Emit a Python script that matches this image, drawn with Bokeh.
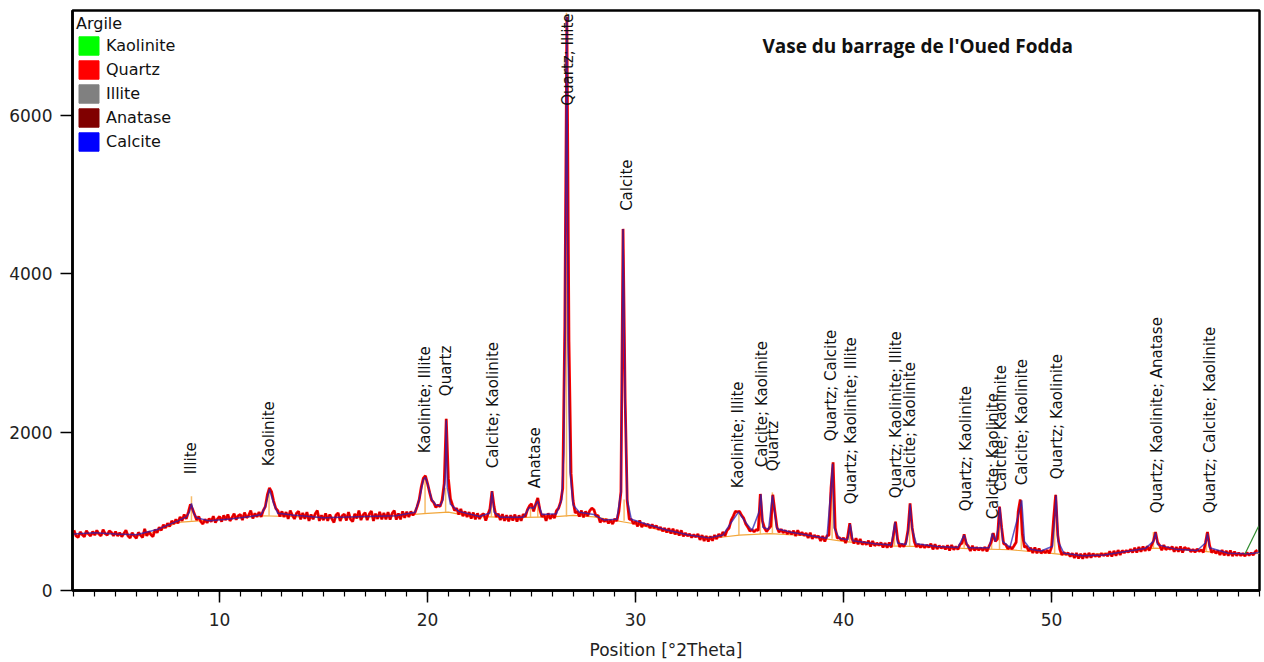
import math
import numpy as np
from bokeh.plotting import figure
from bokeh.models import Range1d, FixedTicker, Legend, LegendItem, Label
from bokeh.core.properties import value
from bokeh.embed import file_html
from bokeh.resources import INLINE

# ---------------- data ----------------
scan_start = 3.0
scan_step = 0.1
obs_counts = [
    760, 690, 670, 740, 705, 680, 755, 715, 690, 745,   # 3
    700, 760, 715, 690, 770, 720, 700, 755, 735, 690,   # 4
    745, 690, 730, 680, 720, 760, 690, 665, 730, 690,   # 5
    660, 735, 700, 670, 780, 690, 745, 705, 680, 770,   # 6
    730, 800, 760, 830, 790, 850, 810, 880, 840, 900,   # 7
    850, 930, 880, 960, 905, 990, 1090, 1030, 960, 890, # 8
    935, 870, 840, 900, 855, 910, 870, 940, 860, 905,   # 9
    935, 870, 950, 890, 960, 880, 920, 970, 895, 945,   # 10
    960, 890, 985, 920, 950, 1010, 910, 975, 930, 990,  # 11
    930, 1010, 1060, 1210, 1295, 1250, 1130, 1040, 1010, 935,  # 12
    1000, 930, 990, 905, 1010, 950, 905, 975, 1000, 900,  # 13
    980, 905, 990, 880, 960, 900, 970, 1010, 880, 950,  # 14
    890, 975, 880, 960, 905, 860, 955, 980, 880, 945,   # 15
    965, 885, 990, 900, 870, 970, 910, 1010, 890, 955,  # 16
    985, 890, 965, 1005, 880, 970, 905, 995, 900, 980,  # 17
    900, 990, 895, 975, 1010, 895, 975, 900, 1000, 920,  # 18
    995, 930, 1000, 950, 990, 1060, 1150, 1310, 1420, 1450,  # 19
    1350, 1240, 1140, 1110, 1050, 1080, 1060, 1140, 1350, 2170,  # 20
    1420, 1160, 1080, 1010, 1040, 960, 1030, 940, 1000, 930,  # 21
    990, 910, 985, 900, 975, 905, 955, 970, 885, 960,   # 22
    1030, 1255, 1060, 930, 970, 890, 965, 880, 950, 875,  # 23
    950, 885, 960, 870, 950, 880, 965, 930, 1020, 1070,  # 24
    1095, 1000, 1090, 1170, 1020, 930, 960, 880, 975, 905,  # 25
    960, 915, 1010, 1040, 1120, 1290, 3340, 7250, 3150, 1480,  # 26
    1130, 980, 1000, 935, 1010, 925, 1000, 940, 1010, 1040,  # 27
    1020, 940, 950, 860, 905, 870, 900, 850, 890, 840,  # 28
    905, 880, 1000, 1250, 4570, 2430, 1130, 900, 900, 840,  # 29
    875, 810, 885, 800, 850, 815, 840, 790, 835, 790,   # 30
    820, 770, 800, 750, 790, 735, 785, 720, 780, 710,   # 31
    765, 695, 760, 685, 725, 690, 715, 670, 705, 675,   # 32
    715, 640, 700, 625, 690, 620, 685, 630, 700, 650,   # 33
    715, 675, 740, 690, 760, 790, 890, 940, 1000, 995,  # 34
    1000, 950, 915, 840, 800, 750, 770, 740, 770, 760,  # 35
    1220, 880, 790, 745, 780, 810, 1210, 1000, 800, 735,  # 36
    775, 730, 760, 715, 750, 710, 755, 690, 760, 700,   # 37
    735, 695, 725, 665, 730, 655, 700, 670, 690, 625,   # 38
    690, 620, 690, 700, 1300, 1620, 790, 660, 670, 635,  # 39
    665, 600, 680, 850, 660, 595, 660, 585, 650, 580,   # 40
    615, 580, 630, 555, 625, 565, 600, 570, 605, 545,   # 41
    600, 540, 605, 545, 700, 870, 650, 550, 585, 555,   # 42
    610, 760, 1100, 800, 620, 550, 585, 545, 580, 540,  # 43
    575, 545, 590, 520, 585, 525, 565, 535, 560, 520,   # 44
    570, 505, 575, 515, 555, 520, 580, 600, 710, 590,   # 45
    560, 500, 565, 505, 545, 510, 540, 505, 550, 495,   # 46
    560, 610, 725, 620, 650, 1060, 800, 590, 580, 525,  # 47
    555, 525, 565, 610, 1000, 1150, 710, 545, 560, 500,  # 48
    540, 475, 545, 470, 530, 470, 505, 475, 510, 470,   # 49
    545, 900, 1210, 700, 520, 450, 480, 455, 475, 430,  # 50
    470, 410, 475, 405, 465, 400, 470, 410, 475, 415,   # 51
    465, 430, 455, 425, 470, 440, 465, 435, 495, 430,   # 52
    500, 440, 510, 450, 505, 475, 505, 485, 520, 480,   # 53
    540, 480, 550, 490, 555, 500, 560, 505, 565, 625,   # 54
    740, 610, 570, 510, 575, 515, 545, 520, 555, 490,   # 55
    550, 490, 555, 480, 545, 520, 530, 490, 520, 485,   # 56
    525, 495, 515, 480, 600, 740, 570, 480, 510, 470,   # 57
    505, 450, 510, 445, 500, 440, 505, 435, 490, 440,   # 58
    475, 440, 470, 435, 480, 445, 475, 450, 490, 510,   # 59
]
obs_pos = [round(scan_start + scan_step * i, 2) for i in range(len(obs_counts))]

fit_pos = [3.0, 4.0, 5.0, 6.0, 7.0, 8.0, 8.4, 8.55, 8.65, 8.75, 8.9, 9.5, 10.5, 11.5,
           12.0, 12.2, 12.4, 12.6, 12.8, 13.5, 15.0, 17.0, 18.5, 19.4, 19.6, 19.8, 19.9,
           20.0, 20.2, 20.4, 20.6, 20.75, 20.85, 20.9, 20.95, 21.1, 21.5, 22.5, 23.0,
           23.1, 23.2, 23.5, 24.6, 24.9, 25.1, 25.3, 25.5, 26.2, 26.45, 26.55, 26.6,
           26.7, 26.75, 26.85, 27.0, 27.3, 28.0, 28.5, 29.1, 29.3, 29.4, 29.5, 29.6,
           29.8, 30.5, 31.5, 32.5, 33.5, 34.2, 34.6, 34.95, 35.3, 35.6, 35.95, 36.03,
           36.12, 36.4, 36.58, 36.68, 36.8, 37.5, 38.5, 39.2, 39.4, 39.47, 39.55, 39.8,
           40.2, 40.32, 40.45, 41.5, 42.3, 42.47, 42.6, 43.0, 43.12, 43.2, 43.3, 43.5,
           44.5, 45.5, 45.8, 46.0, 47.0, 47.15, 47.3, 47.45, 47.52, 47.65, 48.0, 48.45,
           48.57, 48.7, 49.0, 49.5, 50.05, 50.15, 50.22, 50.32, 50.6, 51.5, 52.5, 53.5,
           54.5, 54.9, 55.0, 55.1, 56.0, 57.0, 57.4, 57.5, 57.6, 58.5, 59.5, 60.0]
fit_counts = [715, 730, 715, 705, 770, 880, 930, 990, 1100, 980, 920, 880, 905, 935,
              960, 1060, 1280, 1100, 975, 955, 920, 935, 945, 990, 1150, 1400, 1430,
              1350, 1150, 1080, 1070, 1150, 1430, 2150, 1300, 1090, 1000, 935, 980,
              1250, 990, 925, 925, 1050, 1040, 1130, 960, 970, 1150, 1740, 3340,
              7250, 3150, 1500, 1080, 990, 960, 890, 900, 1250, 4570, 2430, 1150,
              900, 840, 765, 705, 665, 700, 860, 990, 860, 760, 1000, 1215,
              800, 775, 1200, 1000, 780, 735, 690, 660, 1300, 1600, 790, 660,
              640, 840, 630, 590, 575, 860, 600, 580, 780, 1090, 780, 590,
              555, 545, 700, 540, 540, 720, 620, 800, 1050, 620, 545, 1000,
              1140, 620, 520, 500, 560, 900, 1200, 620, 470, 440, 450, 490,
              530, 620, 730, 580, 520, 505, 600, 720, 540, 470, 465, 480]

bg_pos = [3, 5, 6.5, 8, 10, 12, 14, 16, 18, 20, 21, 22, 24, 26, 27, 28, 30, 32, 34, 35,
          36.5, 38, 40, 42, 44, 46, 48, 50, 51, 53, 55, 57, 59, 60]
bg_counts = [715, 715, 700, 860, 900, 945, 930, 920, 935, 975, 990, 940, 920, 930, 950,
             930, 840, 710, 670, 700, 720, 695, 620, 565, 555, 530, 515, 470, 440, 480,
             535, 500, 460, 470]

end_pos = [59.3, 59.95]
end_counts = [460, 810]

stick_pos = [8.65, 12.38, 19.88, 20.87, 23.07, 24.95, 25.3, 26.68, 29.45, 34.97, 36.0,
             36.58, 39.45, 40.3, 42.45, 43.18, 45.8, 47.12, 47.5, 48.55, 50.15, 54.9, 57.45]
stick_top = [1190, 1270, 1440, 1300, 1240, 1080, 1150, 7300, 1150, 1000, 1100, 1240,
             1550, 820, 860, 1080, 700, 720, 1040, 1100, 1150, 740, 730]
stick_base = [880, 945, 975, 990, 930, 925, 925, 935, 880, 700, 715, 720, 655, 620,
              565, 560, 540, 525, 520, 515, 470, 535, 500]

peak_labels = ["Illite", "Kaolinite", "Kaolinite; Illite", "Quartz", "Calcite; Kaolinite",
               "Anatase", "Quartz; Illite", "Calcite", "Kaolinite; Illite",
               "Calcite; Kaolinite", "Quartz", "Quartz; Calcite",
               "Quartz; Kaolinite; Illite", "Quartz; Kaolinite; Illite",
               "Calcite; Kaolinite", "Quartz; Kaolinite", "Calcite; Kaolinite",
               "Calcite; Kaolinite", "Calcite; Kaolinite", "Quartz; Kaolinite",
               "Quartz; Kaolinite; Anatase", "Quartz; Calcite; Kaolinite"]
label_pos = [8.65, 12.4, 19.9, 20.91, 23.13, 25.19, 26.73, 29.57, 34.95, 36.1, 36.59,
             39.42, 40.38, 42.5, 43.22, 45.87, 47.21, 47.55, 48.56, 50.24, 55.05, 57.6]
label_base = [1469, 1570, 1734, 2456, 1545, 1291, 6127, 4798, 1291, 1557, 1507, 1886,
              1089, 1165, 1291, 1000, 899, 1253, 1329, 1405, 975, 975]

phases = ["Kaolinite", "Quartz", "Illite", "Anatase", "Calcite"]
phase_colors = ["#00ff00", "#ff0000", "#808080", "#800000", "#0000ff"]

x_ticks = [10, 20, 30, 40, 50]
x_minor = list(range(3, 61))
y_ticks = [0, 2000, 4000, 6000]

# ---------------- figure ----------------
p = figure(width=1264, height=662, output_backend="svg", toolbar_location=None,
           x_range=Range1d(2.93, 60.0), y_range=Range1d(0, 7330),
           min_border_left=72, min_border_right=5, min_border_top=10,
           min_border_bottom=72)
p.background_fill_color = "white"
p.border_fill_color = "white"
p.outline_line_color = "black"
p.outline_line_width = 2.5
p.xgrid.visible = False
p.ygrid.visible = False

# background, sticks
p.line(bg_pos, bg_counts, line_color="#f2a63a", line_width=1.2)
p.segment(x0=stick_pos, y0=stick_base, x1=stick_pos, y1=stick_top,
          line_color="#f5b050", line_width=1.5, line_alpha=0.85)
# observed
p.line(obs_pos, obs_counts, line_color="#ff0000", line_width=2.8)
p.line(obs_pos, obs_counts, line_color="#400000", line_width=0.6, line_alpha=0.5)
# calculated
p.line(fit_pos, fit_counts, line_color="#2a1fb0", line_width=1.5, line_alpha=0.75)
p.line(end_pos, end_counts, line_color="#2e8b2e", line_width=1.2)

# peak labels
p.text(x=label_pos, y=label_base, text=peak_labels, angle=math.pi / 2,
       text_align="left", text_baseline="middle",
       text_font=value("DejaVu Sans"), text_font_size="15px", text_color="#111111")

# title
p.add_layout(Label(x=36.1, y=6880, text="Vase du barrage de l'Oued Fodda",
                   text_align="left", text_baseline="middle",
                   text_font="Open Sans", text_font_style="bold",
                   text_font_size="19px", text_color="#111111"))

# legend (swatches drawn outside the visible ranges; only the legend shows them)
items = []
for name, col in zip(phases, phase_colors):
    r = p.quad(left=[-20], right=[-19], top=[-20], bottom=[-30],
               fill_color=col, line_color=col)
    items.append(LegendItem(label=name, renderers=[r]))
leg = Legend(items=items, location="top_left", title="Argile",
             glyph_width=25, glyph_height=23, label_height=23, spacing=1,
             label_standoff=5, padding=3, margin=1,
             border_line_alpha=0, background_fill_alpha=0,
             label_text_font="DejaVu Sans", label_text_font_size="16px",
             label_text_color="#111111",
             title_text_font="DejaVu Sans", title_text_font_size="16px",
             title_text_font_style="normal", title_text_color="#111111",
             title_standoff=1)
p.add_layout(leg)

# axes
for ax in (p.xaxis[0], p.yaxis[0]):
    ax.axis_line_color = "black"
    ax.axis_line_width = 2.5
    ax.major_tick_line_color = "black"
    ax.major_tick_line_width = 1.5
    ax.major_tick_in = 0
    ax.major_tick_out = 12
    ax.minor_tick_line_color = "black"
    ax.minor_tick_line_width = 1.2
    ax.minor_tick_in = 0
    ax.major_label_text_font = "DejaVu Sans"
    ax.major_label_text_font_size = "17px"
    ax.major_label_text_color = "#222222"

p.xaxis[0].ticker = FixedTicker(ticks=x_ticks, minor_ticks=x_minor)
p.xaxis[0].minor_tick_out = 6
p.xaxis[0].major_label_standoff = 10
p.xaxis[0].axis_label = "Position [°2Theta]"
p.xaxis[0].axis_label_text_font = "DejaVu Sans"
p.xaxis[0].axis_label_text_font_size = "17px"
p.xaxis[0].axis_label_text_font_style = "normal"
p.xaxis[0].axis_label_text_color = "#222222"
p.xaxis[0].axis_label_standoff = 11

p.yaxis[0].ticker = FixedTicker(ticks=y_ticks, minor_ticks=[])
p.yaxis[0].minor_tick_out = 0
p.yaxis[0].major_label_standoff = 8

open("out.html", "w").write(file_html(p, INLINE))
